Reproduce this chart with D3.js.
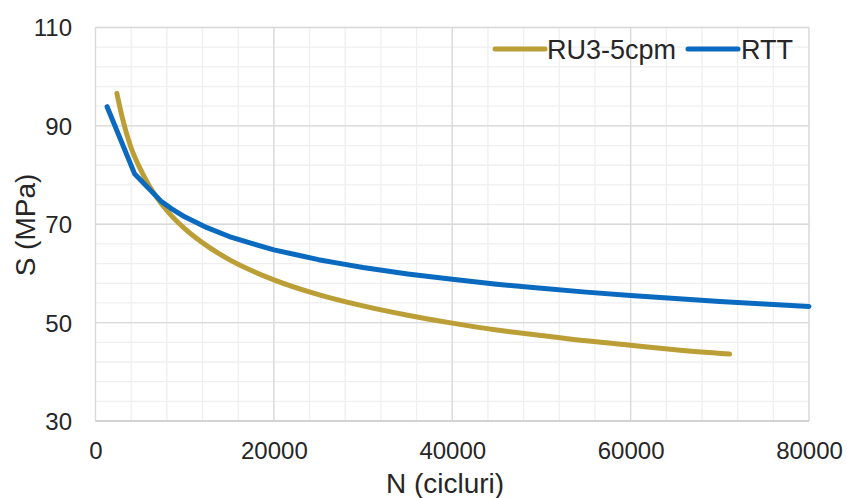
<!DOCTYPE html>
<html><head><meta charset="utf-8">
<script src="https://cdn.jsdelivr.net/npm/d3@7"></script>
<style>body{margin:0;background:#fff}text{font-family:"Liberation Sans",Arial,sans-serif;fill:#262626}</style>
</head><body><svg id="c" width="847" height="498"></svg>
<script>
const seriesNames = ["RU3-5cpm", "RTT"];
const seriesColors = ["#BB9F36", "#0A6ABF"];
const ruN = [2400, 3000, 3900, 5000, 6000, 8000, 10000, 12500, 15000, 20000, 25000, 30000, 35000, 40000, 45000, 50000, 55000, 60000, 65000, 71100];
const ruS = [96.6, 91.7, 86.0, 81.3, 77.9, 72.8, 69.1, 65.6, 62.8, 58.7, 55.7, 53.4, 51.5, 49.9, 48.5, 47.4, 46.3, 45.4, 44.5, 43.6];
const rttN = [1300, 4400, 7400, 8500, 10000, 12500, 15000, 17500, 20000, 22500, 25000, 27500, 30000, 35000, 40000, 45000, 50000, 55000, 60000, 65000, 70000, 75000, 80000];
const rttS = [93.9, 80.2, 74.6, 73.2, 71.5, 69.3, 67.5, 66.1, 64.8, 63.8, 62.8, 62.0, 61.2, 59.9, 58.8, 57.8, 57.0, 56.2, 55.5, 54.9, 54.3, 53.8, 53.3];
const xTicks = [0, 20000, 40000, 60000, 80000];
const yTicks = [30, 50, 70, 90, 110];
const xTitle = "N (cicluri)", yTitle = "S (MPa)";

const svg = d3.select("#c");
const x = d3.scaleLinear().domain([0, 80000]).range([95.5, 809]);
const y = d3.scaleLinear().domain([30, 110]).range([421, 27.5]);

const g = svg.append("g");
const xMinor = d3.range(0, 80001, 4000), yMinor = d3.range(30, 110.1, 4);
g.selectAll(".vm").data(xMinor).join("line").attr("x1", d => x(d)).attr("x2", d => x(d)).attr("y1", y(30)).attr("y2", y(110)).attr("stroke", "#efefef").attr("stroke-width", 1.3);
g.selectAll(".hm").data(yMinor).join("line").attr("y1", d => y(d)).attr("y2", d => y(d)).attr("x1", x(0)).attr("x2", x(80000)).attr("stroke", "#efefef").attr("stroke-width", 1.3);
g.selectAll(".vM").data(xTicks).join("line").attr("x1", d => x(d)).attr("x2", d => x(d)).attr("y1", y(30)).attr("y2", y(110)).attr("stroke", "#d9d9d9").attr("stroke-width", 1.3);
g.selectAll(".hM").data(yTicks).join("line").attr("y1", d => y(d)).attr("y2", d => y(d)).attr("x1", x(0)).attr("x2", x(80000)).attr("stroke", "#d9d9d9").attr("stroke-width", 1.3);
g.append("line").attr("x1", x(0)).attr("x2", x(80000)).attr("y1", y(30)).attr("y2", y(30)).attr("stroke", "#cfcfcf").attr("stroke-width", 1.5);

const xAxis = d3.axisBottom(x).tickValues(xTicks).tickSize(0).tickPadding(0).tickFormat(d3.format("d"));
const xa = svg.append("g").attr("transform", "translate(0,421)").call(xAxis);
xa.select(".domain").remove();
xa.selectAll("text").attr("y", 30).attr("dy", "0.35em").style("font-size", "24px").style("font-family", "Liberation Sans, Arial, sans-serif").attr("fill", "#262626");
const yAxis = d3.axisLeft(y).tickValues(yTicks).tickSize(0).tickPadding(0);
const ya = svg.append("g").attr("transform", "translate(72,0)").call(yAxis);
ya.select(".domain").remove();
ya.selectAll("text").attr("dy", "0.35em").style("font-size", "24px").style("font-family", "Liberation Sans, Arial, sans-serif").attr("fill", "#262626");

svg.append("text").attr("x", 445).attr("y", 493).attr("text-anchor", "middle").style("font-size", "28px").text(xTitle);
svg.append("text").attr("transform", "translate(35,225) rotate(-90)").attr("text-anchor", "middle").style("font-size", "28px").text(yTitle);

const lineSmooth = d3.line().x(d => x(d[0])).y(d => y(d[1])).curve(d3.curveMonotoneX);
const lineStraight = d3.line().x(d => x(d[0])).y(d => y(d[1])).curve(d3.curveLinear);
const series = [d3.zip(ruN, ruS), d3.zip(rttN, rttS)];
svg.selectAll(".ln").data(series).join("path").attr("d", (d, i) => i === 0 ? lineSmooth(d) : lineStraight(d)).attr("fill", "none")
  .attr("stroke", (d, i) => seriesColors[i]).attr("stroke-width", 5).attr("stroke-linejoin", "round").attr("stroke-linecap", "round");

const leg = [{x1: 495, x2: 545, tx: 547}, {x1: 688, x2: 738, tx: 741}];
leg.forEach((l, i) => {
  svg.append("line").attr("x1", l.x1).attr("x2", l.x2).attr("y1", 49).attr("y2", 49).attr("stroke", seriesColors[i]).attr("stroke-width", 5).attr("stroke-linecap", "round");
  svg.append("text").attr("x", l.tx).attr("y", 58.5).style("font-size", "27px").text(seriesNames[i]);
});
</script></body></html>
